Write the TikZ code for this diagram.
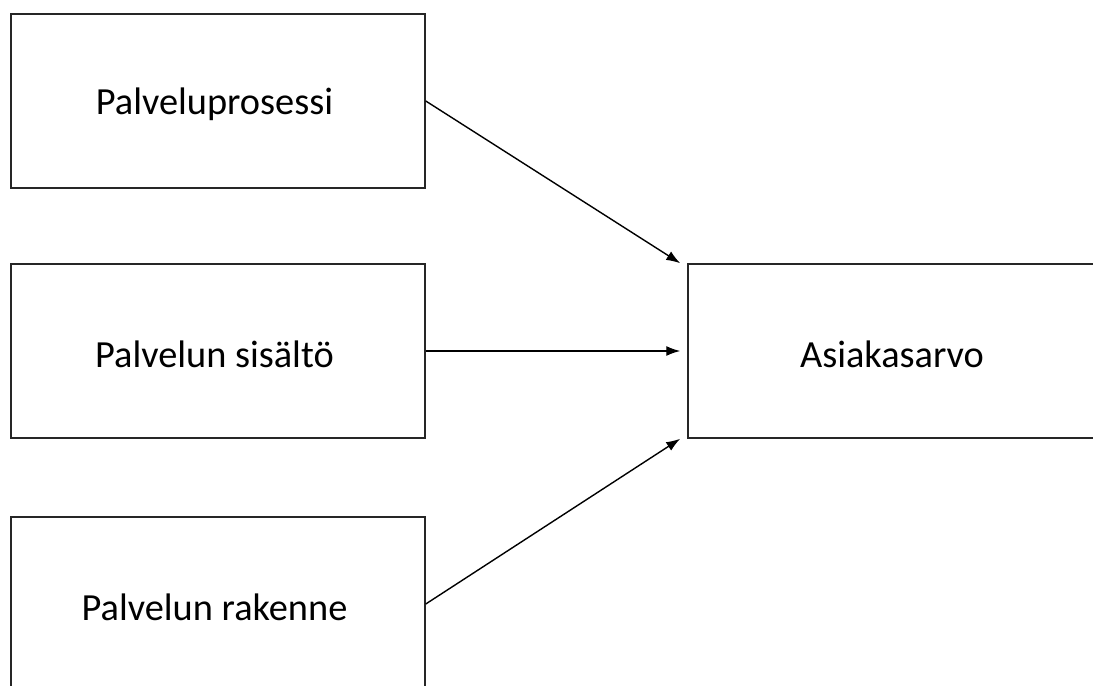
\documentclass[tikz,border=0pt]{standalone}
\usepackage{fontspec}
\setmainfont{Carlito}
\usetikzlibrary{arrows.meta}
\begin{document}
\begin{tikzpicture}[x=1bp,y=-1bp,
  factor/.style={draw=black!85, line width=1.5bp, minimum width=414bp, minimum height=174bp,
    inner sep=0pt, font=\fontsize{38.5}{46}\selectfont},
  label/.style={font=\fontsize{38.5}{46}\selectfont, inner sep=0pt},
  link/.style={line width=1.4bp, -{Latex[length=14bp,width=10bp]}}]
\useasboundingbox (0,0) rectangle (1093,686);
\clip (0,0) rectangle (1093,686);
\fill[white] (0,0) rectangle (1093,686);
% boxes
\node[factor] (b1) at (218,101) {};
\node[factor] (b2) at (218,351) {};
\node[factor] (b3) at (218,604) {};
\node[factor, minimum width=408bp] (b4) at (892,351) {};
% texts
\node[label] (t1) at ([xshift=-3.5bp,yshift=-3bp]b1.center) {Palveluprosessi};
\node[label] (t2) at ([xshift=-3.5bp,yshift=-3bp]b2.center) {Palvelun sisältö};
\node[label] (t3) at ([xshift=-3.5bp,yshift=-3bp]b3.center) {Palvelun rakenne};
\node[label] (t4) at ([xshift=0bp,yshift=-3bp]b4.center) {Asiakasarvo};
% arrows
\draw[link] (b1.east) -- ([xshift=-7bp]b4.north west);
\draw[link] (b2.east) -- ([xshift=-7bp]b4.west);
\draw[link] (b3.east) -- ([xshift=-7bp]b4.south west);
\end{tikzpicture}
\end{document}
